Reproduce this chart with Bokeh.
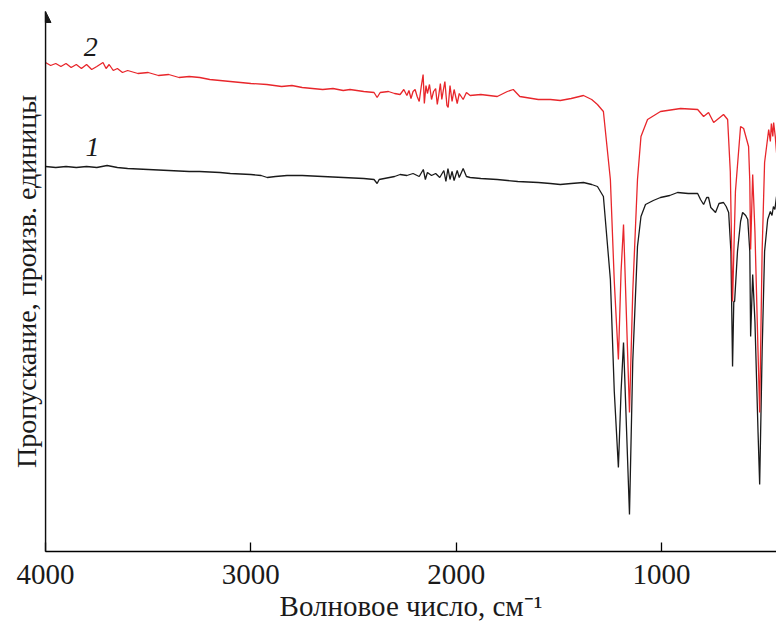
from bokeh.plotting import figure
from bokeh.models import Range1d, FixedTicker, Arrow, NormalHead, Label
from bokeh.embed import file_html
from bokeh.resources import INLINE

# Spectrum 1 (black): wavenumber (cm^-1) and transmittance (arb. units)
wn1 = [4000, 3950, 3900, 3850, 3800, 3750, 3700, 3650, 3600, 3500, 3400, 3300, 3250, 3150,
       3100, 3000, 2950, 2920, 2880, 2824, 2750, 2650, 2550, 2450, 2400, 2385, 2375, 2350,
       2300, 2273, 2240, 2210, 2180, 2160, 2150, 2140, 2120, 2100, 2080, 2060, 2050, 2040,
       2030, 2020, 2010, 1995, 1985, 1966, 1950, 1932, 1880, 1800, 1750, 1700, 1600, 1541,
       1493, 1440, 1380, 1340, 1312, 1283, 1249, 1230, 1210, 1197, 1185, 1170, 1156, 1140,
       1117, 1100, 1078, 1040, 1005, 960, 922, 870, 824, 810, 795, 780, 771, 760, 746, 737,
       720, 698, 685, 673, 662, 654, 648, 644, 630, 615, 605, 590, 580, 570, 566, 556, 545,
       530, 522, 510, 498, 483, 470, 462, 455, 448, 440]
tr1 = [385, 384, 385, 384, 385, 384, 386, 384, 383, 382, 381, 380, 380, 379,
       378, 377, 376, 374, 375, 376, 376, 375, 374, 373, 372, 368, 372, 373,
       375, 377, 376, 378, 375, 382, 372, 379, 376, 378, 374, 381, 370, 383,
       372, 380, 371, 381, 374, 383, 375, 374, 373, 372, 371, 370, 369, 368,
       367, 368, 369, 367, 365, 355, 272, 160, 84, 160, 209, 120, 37, 190,
       305, 335, 347, 351, 354, 356, 359, 358, 358, 352, 347, 354, 354, 344, 341, 339,
       348, 349, 345, 339, 300, 185, 250, 250, 300, 330, 339, 336, 332, 300, 215, 277, 230,
       120, 67, 200, 300, 332, 340, 336, 345, 342, 355]

# Spectrum 2 (red)
wn2 = [4000, 3975, 3950, 3925, 3900, 3875, 3850, 3825, 3800, 3775, 3750, 3720, 3705, 3690,
       3670, 3650, 3625, 3600, 3550, 3500, 3450, 3400, 3350, 3300, 3249, 3200,
       3150, 3100, 3050, 3000, 2922, 2850, 2800, 2750, 2700, 2650, 2600, 2550, 2517, 2450,
       2400, 2385, 2370, 2330, 2300,
       2273, 2255, 2240, 2230, 2220, 2210, 2200, 2190, 2180, 2170, 2161, 2155, 2147, 2140,
       2130, 2120, 2110, 2100, 2092, 2085, 2077, 2070, 2062, 2055,
       2045, 2039, 2030, 2020, 2010, 1995, 1985, 1966, 1950, 1932, 1880, 1800, 1751, 1722,
       1690, 1600, 1541, 1493, 1440, 1380, 1340, 1312, 1283, 1249, 1230, 1210, 1197, 1185,
       1170, 1156, 1140, 1117, 1100, 1068, 1005, 907, 824, 795, 771, 746, 698, 678, 665,
       654, 640, 615, 600, 576, 570, 566, 556, 545, 530, 522, 510, 498, 478, 470, 465, 458,
       454, 446, 439]
tr2 = [489, 486, 488, 485, 488, 484, 487, 483, 487, 482, 485, 489, 483, 487,
       481, 483, 479, 481, 478, 479, 476, 477, 474, 475, 474, 472,
       471, 470, 469, 468, 467, 465, 466, 464, 463, 462, 463, 461, 462, 460,
       459, 454, 459, 460, 458,
       457, 462, 456, 461, 453, 460, 462, 455, 450, 465, 477, 448, 466, 458,
       467, 452, 460, 463, 447, 456, 468, 452, 462, 470,
       446, 444, 466, 450, 462, 448, 458, 452, 459, 456, 457, 455, 460, 462,
       455, 452, 452, 451, 453, 456, 452, 447, 440, 372, 270, 192, 280, 327,
       230, 139, 260, 372, 415, 432, 440, 443, 442, 435, 439, 429, 437, 432, 380,
       250, 360, 425, 423, 405, 370, 302, 377, 320, 200, 139, 300, 389, 422, 410, 428, 415,
       429, 415, 397]

curve_names = ["1", "2"]
label_wn = [3771, 3780]
label_tr = [405, 505]

FONT = "Liberation Serif"

p = figure(width=776, height=624, output_backend="svg", toolbar_location=None,
           x_range=Range1d(4000, 440), y_range=Range1d(0, 540),
           min_border_left=45, min_border_right=0, min_border_top=11, min_border_bottom=73)
p.outline_line_color = None
p.xgrid.visible = False
p.ygrid.visible = False

p.line(wn1, tr1, line_color="#1a1a1a", line_width=1.3)
p.line(wn2, tr2, line_color="#e8262b", line_width=1.3)

for name, x, y in zip(curve_names, label_wn, label_tr):
    p.add_layout(Label(x=x, y=y, text=name, text_font=FONT, text_font_style="italic",
                       text_font_size="28px", text_align="center", text_baseline="middle",
                       text_color="#1a1a1a"))

xa = p.xaxis[0]
xa.ticker = FixedTicker(ticks=[1000, 2000, 3000, 4000])
xa.major_tick_in = 9
xa.major_tick_out = 0
xa.minor_tick_line_color = None
xa.axis_line_width = 1.3
xa.major_tick_line_width = 1.3
xa.major_label_text_font = FONT
xa.major_label_text_font_size = "29px"
xa.major_label_text_color = "#1a1a1a"
xa.major_label_standoff = 13
xa.axis_label = "Волновое число, см⁻¹"
xa.axis_label_text_font = FONT
xa.axis_label_text_font_size = "29px"
xa.axis_label_text_font_style = "normal"
xa.axis_label_text_color = "#1a1a1a"
xa.axis_label_standoff = 3

ya = p.yaxis[0]
ya.ticker = FixedTicker(ticks=[])
ya.major_tick_line_color = None
ya.minor_tick_line_color = None
ya.axis_line_width = 1.3
ya.axis_label = "Пропускание, произв. единицы"
ya.axis_label_text_font = FONT
ya.axis_label_text_font_size = "28px"
ya.axis_label_text_font_style = "normal"
ya.axis_label_text_color = "#1a1a1a"
ya.axis_label_standoff = 4

p.add_layout(Arrow(end=NormalHead(size=11, fill_color="#1a1a1a", line_color="#1a1a1a"),
                   x_start=4000, y_start=0, x_end=4000, y_end=540,
                   line_color="#1a1a1a", line_width=1.3))

open("out.html", "w").write(file_html(p, INLINE))
